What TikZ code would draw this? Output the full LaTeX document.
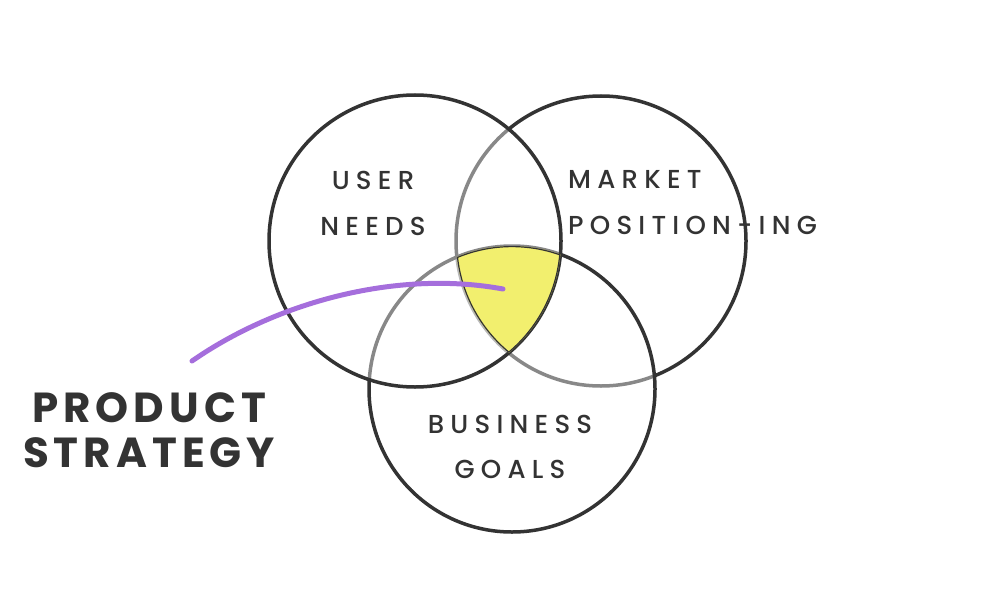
\documentclass[tikz,border=0pt]{standalone}
\usepackage{fontspec}
\setmainfont{Poppins}
\newfontfamily\lblfont[LetterSpace=24]{Poppins Medium}
\newfontfamily\stratfont[LetterSpace=12]{Poppins}
\usetikzlibrary{positioning}
\definecolor{ink}{HTML}{333333}
\definecolor{hilite}{HTML}{F2EF6E}
\definecolor{stratpurple}{HTML}{A56EDC}

\begin{document}
\begin{tikzpicture}[x=1pt,y=-1pt,
  ring/.style={line width=3.5pt,draw=ink},
  veil/.style={fill=white,fill opacity=0.42},
  lbl/.style={text=ink,inner sep=0pt,font=\lblfont\fontsize{26}{30}\selectfont},
  strat/.style={text=ink,inner sep=0pt,font=\stratfont\bfseries\fontsize{42}{48}\selectfont}]
\useasboundingbox (0,0) rectangle (1000,599);

\coordinate (user) at (415,241);
\coordinate (market) at (601,241);
\coordinate (business) at (512,389);

% circles, back to front
\draw[ring] (market) circle[radius=145pt];
\fill[veil] (business) circle[radius=143pt];
\draw[ring] (business) circle[radius=143pt];
\fill[veil] (user) circle[radius=146pt];
\draw[ring] (user) circle[radius=146pt];

% where all three meet
\begin{scope}
\clip (user) circle[radius=146pt];
\clip (market) circle[radius=145pt];
\clip (business) circle[radius=143pt];
\fill[hilite] (0,0) rectangle (1000,599);
\draw[ink,line width=2.4pt] (user) circle[radius=146pt] (market) circle[radius=145pt] (business) circle[radius=143pt];
\end{scope}

\node[lbl] (userlbl) at (373,180) {USER};
\node[lbl] (needslbl) [below=28pt of userlbl] {NEEDS};
\node[lbl,anchor=west] (marketlbl) at (568,179) {MARKET};
\node[lbl] (poslbl) [below=28pt of marketlbl.south west,anchor=north west] {POSITION-ING};
\node[lbl] (bizlbl) at (510,424) {BUSINESS};
\node[lbl] (goalslbl) [below=27pt of bizlbl] {GOALS};
\node[strat] (productlbl) at (149,408) {PRODUCT};
\node[strat] (strategylbl) [below=14pt of productlbl] {STRATEGY};

\coordinate (tail) at (192,361);
\coordinate (tip) at (503,289);
\draw[stratpurple,line width=5pt,line cap=round] (tail) .. controls (280,300) and (400,270) .. (tip);

\end{tikzpicture}
\end{document}
